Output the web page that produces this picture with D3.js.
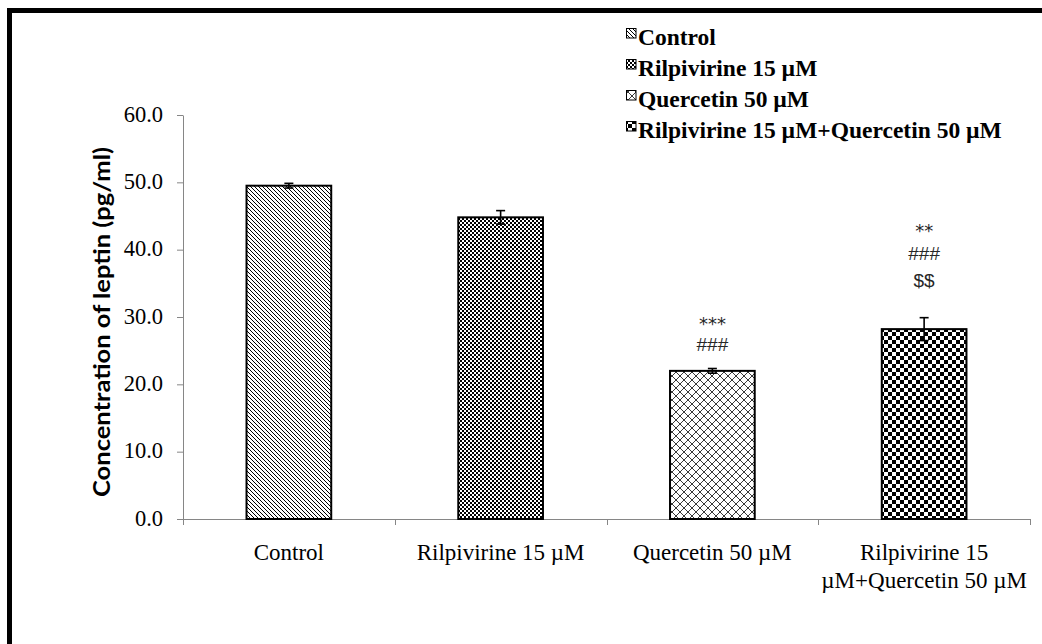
<!DOCTYPE html>
<html>
<head>
<meta charset="utf-8">
<script src="https://cdn.jsdelivr.net/npm/d3@7"></script>
<style>
  html, body { margin: 0; padding: 0; background: #fff; }
  svg { display: block; }
</style>
</head>
<body>
<svg id="chart" width="1042" height="644"></svg>
<script>
// Leptin concentration per treatment group (pg/ml), mean ± error
const categories = ["Control", "Rilpivirine 15 µM", "Quercetin 50 µM", "Rilpivirine 15 µM+Quercetin 50 µM"];
const xLabelLines = [["Control"], ["Rilpivirine 15 µM"], ["Quercetin 50 µM"], ["Rilpivirine 15", "µM+Quercetin 50 µM"]];
const means = [49.5, 44.8, 22.0, 28.2];
const errors = [0.35, 1.0, 0.35, 1.7];
// significance marks, listed from top to bottom
const significance = [[], [], ["***", "###"], ["**", "###", "$$"]];
const yTicks = [0, 10, 20, 30, 40, 50, 60];
const yTitle = "Concentration of leptin (pg/ml)";
const fills = ["dkDnDiag", "smChecker", "wdDiagCross", "lgChecker"];

const svg = d3.select("#chart");
const serif = "'Liberation Serif', 'Times New Roman', serif";
const sans = "'Liberation Sans', Arial, sans-serif";
const starFont = "'DejaVu Sans', sans-serif";
const titleFont = "Lato, 'Open Sans', sans-serif";

// page frame
svg.append("rect")
  .attr("x", 9.5).attr("y", 10.5)
  .attr("width", 1100).attr("height", 700)
  .attr("fill", "#fff").attr("stroke", "#000").attr("stroke-width", 5);

// fill patterns
const defs = svg.append("defs");
const p1 = defs.append("pattern").attr("id", "dkDnDiag")
  .attr("patternUnits", "userSpaceOnUse").attr("width", 4).attr("height", 4);
p1.append("rect").attr("width", 4).attr("height", 4).attr("fill", "#fff");
p1.append("path").attr("d", "M-1,-1L5,5M-1,3L1,5M3,-1L5,1")
  .attr("stroke", "#000").attr("stroke-width", 1.0);

const p2 = defs.append("pattern").attr("id", "smChecker")
  .attr("patternUnits", "userSpaceOnUse").attr("width", 4).attr("height", 4);
p2.append("rect").attr("width", 4).attr("height", 4).attr("fill", "#fff");
p2.append("rect").attr("width", 2).attr("height", 2).attr("fill", "#000");
p2.append("rect").attr("x", 2).attr("y", 2).attr("width", 2).attr("height", 2).attr("fill", "#000");

const p3 = defs.append("pattern").attr("id", "wdDiagCross")
  .attr("patternUnits", "userSpaceOnUse").attr("width", 8).attr("height", 8);
p3.append("rect").attr("width", 8).attr("height", 8).attr("fill", "#fff");
p3.append("path").attr("d", "M0,0L8,8M8,0L0,8M-1,7L1,9M7,-1L9,1M-1,1L1,-1M7,9L9,7")
  .attr("stroke", "#222").attr("stroke-width", 0.9);

const p4 = defs.append("pattern").attr("id", "lgChecker")
  .attr("patternUnits", "userSpaceOnUse").attr("width", 8).attr("height", 8);
p4.append("rect").attr("width", 8).attr("height", 8).attr("fill", "#fff");
p4.append("rect").attr("width", 4).attr("height", 4).attr("fill", "#000");
p4.append("rect").attr("x", 4).attr("y", 4).attr("width", 4).attr("height", 4).attr("fill", "#000");

// scales
const x = d3.scaleBand().domain(categories).range([183, 1030])
  .paddingInner(0.6).paddingOuter(0.3);
const y = d3.scaleLinear().domain([0, 60]).range([519, 115]);

// y axis
const yAxis = svg.append("g").attr("transform", "translate(183,0)")
  .call(d3.axisLeft(y).tickValues(yTicks).tickFormat(d3.format(".1f"))
    .tickSize(6).tickSizeOuter(0).tickPadding(14));
yAxis.selectAll("path, line").attr("stroke", "#868686");
yAxis.selectAll("text").attr("font-family", serif).attr("font-size", 22.5)
  .attr("fill", "#000").attr("dy", "0.28em");

// x axis: baseline and category separators
const x0 = x.range()[0], step = x.step();
const bounds = d3.range(categories.length + 1).map(i => x0 + i * step);
const xAxis = svg.append("g");
xAxis.append("line")
  .attr("x1", x0).attr("x2", bounds[bounds.length - 1])
  .attr("y1", y(0) + 0.5).attr("y2", y(0) + 0.5)
  .attr("stroke", "#868686");
xAxis.selectAll("line.tick").data(bounds).join("line").attr("class", "tick")
  .attr("x1", d => Math.round(d) + 0.5).attr("x2", d => Math.round(d) + 0.5)
  .attr("y1", y(0)).attr("y2", y(0) + 6)
  .attr("stroke", "#868686");

// category labels
const catLabels = svg.append("g").attr("font-family", serif).attr("font-size", 23)
  .attr("fill", "#000").attr("text-anchor", "middle");
catLabels.selectAll("text").data(categories).join("text")
  .attr("x", d => x(d) + x.bandwidth() / 2)
  .attr("y", 560)
  .each(function (d, i) {
    d3.select(this).selectAll("tspan").data(xLabelLines[i]).join("tspan")
      .attr("x", x(d) + x.bandwidth() / 2)
      .attr("dy", (t, j) => j === 0 ? 0 : 28)
      .text(t => t);
  });

// bars
svg.append("g").selectAll("rect").data(categories).join("rect")
  .attr("x", d => x(d))
  .attr("y", (d, i) => y(means[i]))
  .attr("width", x.bandwidth())
  .attr("height", (d, i) => y(0) - y(means[i]))
  .attr("fill", (d, i) => `url(#${fills[i]})`)
  .attr("stroke", "#000").attr("stroke-width", 2);

// error bars
const eb = svg.append("g").attr("stroke", "#000").attr("stroke-width", 1.6);
categories.forEach((c, i) => {
  const cx = x(c) + x.bandwidth() / 2;
  const hi = y(means[i] + errors[i]), lo = y(means[i] - errors[i]);
  eb.append("line").attr("x1", cx).attr("x2", cx).attr("y1", hi).attr("y2", lo);
  eb.append("line").attr("x1", cx - 4.5).attr("x2", cx + 4.5).attr("y1", hi).attr("y2", hi);
  eb.append("line").attr("x1", cx - 4.5).attr("x2", cx + 4.5).attr("y1", lo).attr("y2", lo);
});

// significance marks stacked above the error bars
const sig = svg.append("g").attr("font-size", 19)
  .attr("fill", "#262626").attr("text-anchor", "middle");
categories.forEach((c, i) => {
  const marks = significance[i];
  const cx = x(c) + x.bandwidth() / 2;
  const top = y(means[i] + errors[i]);
  const gap = i === 3 ? 31 : 18;
  const lead = i === 3 ? 27 : 25;
  marks.forEach((m, j) => {
    const k = marks.length - 1 - j;
    const star = m.startsWith("*");
    const base = top - gap - k * lead + (star ? 4 : 0);
    sig.append("text").attr("x", cx).attr("y", base)
      .attr("font-family", star ? starFont : sans)
      .attr("font-size", star ? 18 : 19)
      .text(m);
  });
});

// y axis title
svg.append("text")
  .attr("transform", `translate(110,${(y(0) + y(60)) / 2 + 5}) rotate(-90)`)
  .attr("text-anchor", "middle")
  .attr("font-family", titleFont).attr("font-weight", "bold").attr("font-size", 23.5)
  .attr("textLength", 350).attr("lengthAdjust", "spacingAndGlyphs")
  .attr("fill", "#000")
  .text(yTitle);

// legend
const leg = svg.append("g").attr("font-family", serif).attr("font-weight", "bold")
  .attr("font-size", 23.5).attr("fill", "#000");
categories.forEach((c, i) => {
  const base = 45 + i * 31;
  leg.append("rect").attr("x", 626.5).attr("y", base - 16.5)
    .attr("width", 9.5).attr("height", 9.5)
    .attr("fill", `url(#${fills[i]})`).attr("stroke", "#000").attr("stroke-width", 1);
  leg.append("text").attr("x", 638).attr("y", base).text(c);
});
</script>
</body>
</html>
